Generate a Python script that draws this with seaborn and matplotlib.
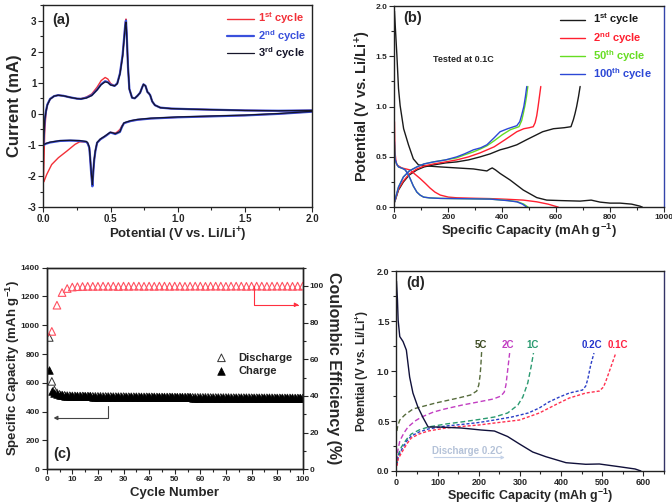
import matplotlib
matplotlib.use('Agg')
import matplotlib.pyplot as plt
import seaborn as sns
from matplotlib.ticker import MultipleLocator, FormatStrFormatter

# ---------------- (a) cyclic voltammetry ----------------
# one closed loop per cycle: anodic scan 0 -> 2 V, then cathodic scan 2 -> 0 V
cv_v = [0.0, 0.005, 0.01, 0.02, 0.03, 0.05, 0.08, 0.11, 0.15, 0.2, 0.25, 0.28, 0.32, 0.36, 0.40,
        0.43, 0.46, 0.48, 0.50, 0.53, 0.55, 0.57, 0.59, 0.60, 0.61, 0.615, 0.62, 0.63, 0.64, 0.66,
        0.68, 0.70, 0.72, 0.735, 0.745, 0.76, 0.775, 0.785, 0.795, 0.81, 0.83, 0.87, 0.95, 1.1,
        1.3, 1.5, 1.75, 2.0,
        2.0, 1.75, 1.5, 1.25, 1.0, 0.8, 0.7, 0.65, 0.62, 0.6, 0.585, 0.57, 0.55, 0.535, 0.515,
        0.498, 0.46, 0.424, 0.40, 0.387, 0.378, 0.372, 0.365, 0.36, 0.355, 0.348, 0.342, 0.33,
        0.32, 0.27, 0.2, 0.124, 0.05, 0.02, 0.0]
cv_i_2 = [-1.0, -0.6, -0.2, 0.1, 0.3, 0.48, 0.57, 0.6, 0.58, 0.53, 0.49, 0.48, 0.52, 0.6, 0.78,
          0.95, 1.05, 1.02, 0.94, 0.9, 0.98, 1.3, 1.9, 2.4, 2.9, 3.0, 2.6, 1.5, 0.8, 0.52,
          0.5, 0.58, 0.68, 0.85, 0.95, 0.9, 0.7, 0.66, 0.6, 0.4, 0.28, 0.2, 0.17, 0.15,
          0.13, 0.11, 0.1, 0.11,
          0.07, 0.0, -0.05, -0.08, -0.11, -0.15, -0.19, -0.23, -0.27, -0.3, -0.42, -0.58, -0.62,
          -0.65, -0.62, -0.6, -0.72, -0.82, -0.93, -1.2, -1.5, -1.85, -2.33, -2.1, -1.85, -1.4,
          -1.09, -0.95, -0.9, -0.87, -0.86, -0.87, -0.92, -0.96, -1.0]
cv_i_3 = [-1.0, -0.62, -0.22, 0.09, 0.29, 0.47, 0.57, 0.6, 0.58, 0.53, 0.49, 0.48, 0.51, 0.59, 0.77,
          0.94, 1.03, 1.01, 0.93, 0.9, 0.97, 1.28, 1.85, 2.35, 2.85, 2.95, 2.55, 1.5, 0.8, 0.52,
          0.5, 0.58, 0.68, 0.85, 0.95, 0.9, 0.7, 0.66, 0.6, 0.4, 0.28, 0.2, 0.17, 0.15,
          0.13, 0.11, 0.1, 0.11,
          0.08, 0.01, -0.04, -0.07, -0.1, -0.14, -0.18, -0.22, -0.26, -0.29, -0.41, -0.57, -0.61,
          -0.64, -0.61, -0.59, -0.71, -0.81, -0.92, -1.18, -1.48, -1.8, -2.28, -2.05, -1.8, -1.38,
          -1.07, -0.93, -0.89, -0.86, -0.85, -0.86, -0.91, -0.95, -0.99]
cv1_v = [0.0, 0.005, 0.01, 0.02, 0.03, 0.05, 0.08, 0.11, 0.15, 0.2, 0.25, 0.28, 0.32, 0.36, 0.40,
         0.43, 0.46, 0.48, 0.50, 0.53, 0.55, 0.57, 0.59, 0.60, 0.61, 0.615, 0.62, 0.63, 0.64, 0.66,
         0.68, 0.70, 0.72, 0.735, 0.745, 0.76, 0.775, 0.785, 0.795, 0.81, 0.83, 0.87, 0.95, 1.1,
         1.3, 1.5, 1.75, 2.0,
         2.0, 1.75, 1.5, 1.25, 1.0, 0.8, 0.7, 0.65, 0.62, 0.6, 0.585, 0.57, 0.55, 0.535, 0.515,
         0.498, 0.46, 0.424, 0.40, 0.387, 0.378, 0.372, 0.365, 0.36, 0.355, 0.348, 0.342, 0.33,
         0.32, 0.27, 0.236, 0.174, 0.112, 0.062, 0.025, 0.005, 0.0]
cv1_i = [-2.2, -1.5, -0.6, 0.05, 0.28, 0.48, 0.57, 0.6, 0.58, 0.53, 0.49, 0.49, 0.54, 0.64, 0.86,
         1.07, 1.17, 1.12, 0.98, 0.9, 0.98, 1.3, 1.9, 2.4, 2.95, 3.05, 2.6, 1.5, 0.8, 0.52,
         0.5, 0.58, 0.68, 0.85, 0.95, 0.9, 0.7, 0.66, 0.6, 0.4, 0.28, 0.2, 0.17, 0.15,
         0.13, 0.11, 0.1, 0.11,
         0.07, 0.0, -0.05, -0.08, -0.11, -0.15, -0.19, -0.23, -0.27, -0.3, -0.38, -0.5, -0.58,
         -0.62, -0.6, -0.6, -0.72, -0.82, -0.93, -1.2, -1.5, -1.85, -2.3, -2.1, -1.85, -1.4,
         -1.09, -0.95, -0.9, -0.9, -0.98, -1.2, -1.41, -1.63, -1.95, -2.17, -2.2]

# ---------------- (b) galvanostatic profiles at 0.1C ----------------
b1_dis_c = [0, 3, 9, 15, 21, 34, 52, 70, 89, 120, 170, 231, 293, 343, 355, 363, 375, 392, 429,
            478, 528, 565, 620, 689, 730, 763, 800, 837, 880, 911, 920]
b1_dis_v = [1.95, 1.8, 1.51, 1.18, 1.01, 0.78, 0.62, 0.48, 0.42, 0.41, 0.40, 0.39, 0.38, 0.36,
            0.38, 0.39, 0.37, 0.335, 0.27, 0.17, 0.095, 0.07, 0.065, 0.06, 0.07, 0.05, 0.04,
            0.04, 0.03, 0.01, 0.0]
b1_chg_c = [0, 3, 15, 33, 55, 83, 110, 145, 190, 231, 275, 318, 355, 392, 420, 454, 490, 520,
            550, 590, 630, 655, 664, 670, 676, 683, 689]
b1_chg_v = [0.05, 0.07, 0.17, 0.25, 0.32, 0.37, 0.40, 0.42, 0.44, 0.45, 0.47, 0.50, 0.53, 0.57,
            0.59, 0.62, 0.67, 0.71, 0.75, 0.78, 0.79, 0.80, 0.87, 0.93, 1.0, 1.1, 1.2]
b2_dis_c = [0, 1, 2, 5, 9, 27, 58, 75, 95, 115, 132, 150, 170, 200, 231, 300, 355, 420, 478,
            528, 570, 608]
b2_dis_v = [0.85, 0.65, 0.55, 0.47, 0.42, 0.39, 0.37, 0.33, 0.285, 0.235, 0.19, 0.15, 0.12, 0.1,
            0.093, 0.088, 0.085, 0.078, 0.07, 0.053, 0.03, 0.0]
b2_chg_c = [0, 3, 15, 33, 55, 83, 110, 145, 190, 231, 275, 318, 370, 410, 454, 480, 500, 515,
            522, 528, 533, 538, 543]
b2_chg_v = [0.05, 0.07, 0.18, 0.26, 0.33, 0.38, 0.41, 0.43, 0.45, 0.47, 0.50, 0.54, 0.60, 0.67,
            0.75, 0.78, 0.79, 0.80, 0.84, 0.91, 1.0, 1.1, 1.2]
b50_dis_c = [0, 1, 2, 8, 15, 30, 40, 50, 58, 70, 83, 95, 108, 130, 170, 250, 355, 420, 458, 480, 496]
b50_dis_v = [0.62, 0.53, 0.47, 0.43, 0.40, 0.385, 0.37, 0.33, 0.285, 0.21, 0.15, 0.12, 0.10,
             0.092, 0.087, 0.084, 0.08, 0.066, 0.053, 0.03, 0.0]
b50_chg_c = [0, 3, 15, 33, 55, 83, 110, 145, 190, 231, 260, 293, 320, 343, 370, 400, 430, 462,
             472, 478, 485, 490, 495]
b50_chg_v = [0.05, 0.08, 0.2, 0.30, 0.36, 0.40, 0.43, 0.45, 0.47, 0.49, 0.52, 0.55, 0.58, 0.61,
             0.66, 0.72, 0.77, 0.80, 0.86, 0.93, 1.02, 1.1, 1.2]
b100_dis_c = [0, 1, 2, 8, 15, 30, 40, 50, 58, 70, 83, 95, 108, 130, 170, 250, 355, 420, 454, 475, 491]
b100_dis_v = [0.65, 0.55, 0.48, 0.43, 0.40, 0.385, 0.37, 0.33, 0.285, 0.21, 0.15, 0.12, 0.10,
              0.092, 0.087, 0.084, 0.08, 0.065, 0.053, 0.03, 0.0]
b100_chg_c = [0, 3, 15, 33, 55, 83, 110, 145, 190, 231, 260, 293, 320, 343, 370, 392, 420, 454,
              465, 472, 480, 486, 491]
b100_chg_v = [0.05, 0.08, 0.2, 0.30, 0.36, 0.40, 0.43, 0.45, 0.47, 0.50, 0.53, 0.57, 0.59, 0.62,
              0.69, 0.75, 0.78, 0.81, 0.85, 0.915, 1.0, 1.1, 1.2]

# ---------------- (c) cycling ----------------
cycles = list(range(1, 101))
charge_cap = [690, 545, 528, 519, 514, 512, 510, 509, 509, 508,
              508, 507, 507, 507, 506, 506, 506, 505, 505, 505,
              505, 504, 504, 504, 504, 503, 503, 503, 503, 503,
              502, 502, 502, 502, 502, 502, 501, 501, 501, 501,
              501, 501, 500, 500, 500, 500, 500, 500, 500, 499,
              499, 499, 499, 499, 499, 499, 498, 498, 498, 498,
              498, 498, 498, 497, 497, 497, 497, 497, 497, 497,
              497, 496, 496, 496, 496, 496, 496, 496, 496, 495,
              495, 495, 495, 495, 495, 495, 495, 495, 494, 494,
              494, 494, 494, 494, 494, 494, 493, 493, 493, 493]
discharge_cap = [915, 610, 550, 530, 520, 515, 513, 511, 510, 509,
                 509, 508, 508, 508, 507, 507, 507, 506, 506, 506,
                 506, 505, 505, 505, 505, 504, 504, 504, 504, 504,
                 503, 503, 503, 503, 503, 503, 502, 502, 502, 502,
                 502, 502, 501, 501, 501, 501, 501, 501, 501, 500,
                 500, 500, 500, 500, 500, 500, 499, 499, 499, 499,
                 499, 499, 499, 498, 498, 498, 498, 498, 498, 498,
                 498, 497, 497, 497, 497, 497, 497, 497, 497, 496,
                 496, 496, 496, 496, 496, 496, 496, 496, 495, 495,
                 495, 495, 495, 495, 495, 495, 494, 494, 494, 494]
ce_cycles = list(range(2, 101, 2))
ce = [75.2, 89.5, 96.4, 98.6, 99.4, 99.6, 99.7, 99.8, 99.8, 99.8,
      99.9, 99.8, 99.9, 99.7, 99.9, 99.8, 99.9, 99.9, 99.8, 99.9,
      99.8, 99.9, 99.9, 99.8, 99.9, 99.9, 99.8, 99.9, 99.9, 99.9,
      99.8, 99.9, 99.9, 99.9, 99.8, 99.9, 99.9, 99.9, 99.8, 99.9,
      99.9, 99.9, 99.8, 99.9, 99.9, 99.9, 99.9, 99.8, 99.9, 99.9]

# ---------------- (d) rate capability ----------------
d_dis_c = [0, 2.4, 4, 8, 16, 24, 32, 40, 52, 65, 77, 101, 157, 182, 206, 238, 270, 299, 331,
           363, 412, 460, 493, 541, 580, 594]
d_dis_v = [1.9, 1.71, 1.51, 1.345, 1.295, 1.21, 0.94, 0.78, 0.64, 0.53, 0.44, 0.44, 0.43, 0.42,
           0.41, 0.40, 0.345, 0.27, 0.19, 0.143, 0.083, 0.067, 0.07, 0.043, 0.02, 0.0]
rate_labels = ['5C', '2C', '1C', '0.2C', '0.1C']
rate_c = [[1, 3, 8, 20, 40, 95, 150, 180, 195, 200, 203, 205, 207],
          [1, 3, 8, 18, 28, 45, 61, 90, 117, 160, 198, 235, 254, 262, 266, 270, 275],
          [1, 4, 12, 25, 36, 55, 77, 120, 157, 200, 238, 270, 295, 307, 319, 327, 333],
          [1, 4, 12, 25, 36, 55, 77, 120, 157, 200, 238, 280, 320, 347, 370, 396, 420, 452,
           460, 465, 472, 480],
          [1, 4, 12, 25, 36, 55, 77, 120, 157, 200, 238, 299, 347, 390, 420, 460, 493, 503,
           509, 515, 521, 527, 533]]
rate_v = [[0.40, 0.45, 0.51, 0.56, 0.62, 0.68, 0.73, 0.76, 0.80, 0.86, 0.95, 1.05, 1.2],
          [0.10, 0.2, 0.3, 0.38, 0.44, 0.50, 0.54, 0.59, 0.62, 0.66, 0.69, 0.72, 0.75, 0.79,
           0.86, 1.0, 1.18],
          [0.08, 0.16, 0.24, 0.32, 0.37, 0.41, 0.44, 0.47, 0.49, 0.515, 0.54, 0.58, 0.66, 0.74,
           0.88, 1.04, 1.18],
          [0.06, 0.14, 0.21, 0.3, 0.35, 0.39, 0.42, 0.45, 0.465, 0.485, 0.51, 0.54, 0.58, 0.63,
           0.69, 0.74, 0.78, 0.81, 0.85, 0.92, 1.06, 1.18],
          [0.05, 0.12, 0.18, 0.27, 0.33, 0.37, 0.40, 0.43, 0.445, 0.46, 0.48, 0.51, 0.58, 0.67,
           0.73, 0.78, 0.80, 0.84, 0.9, 0.97, 1.04, 1.11, 1.18]]
rate_colors = ['#566b3c', '#c23ec2', '#2a9a70', '#2b3ec6', '#ff3050']
rate_text_colors = ['#3c4a22', '#c23ec2', '#2a9a70', '#2233cc', '#ff2040']
rate_label_x = [204, 271, 331, 476, 537]

sns.set_style('ticks')
plt.rcParams['font.family'] = ['Liberation Sans', 'DejaVu Sans']
plt.rcParams['font.weight'] = 'bold'
plt.rcParams['axes.labelweight'] = 'bold'
plt.rcParams['axes.unicode_minus'] = False
plt.rcParams['mathtext.fontset'] = 'custom'
plt.rcParams['mathtext.bf'] = 'Liberation Sans:bold'
plt.rcParams['mathtext.rm'] = 'Liberation Sans:bold'
plt.rcParams['mathtext.it'] = 'Liberation Sans:bold'
plt.rcParams['mathtext.default'] = 'bf'
plt.rcParams['axes.linewidth'] = 1.0
plt.rcParams['axes.edgecolor'] = '#222222'

fig = plt.figure(figsize=(6.72, 5.04), dpi=100)
ax_a = fig.add_axes([0.0645, 0.589, 0.400, 0.401])
ax_b = fig.add_axes([0.587, 0.589, 0.401, 0.399])
ax_c = fig.add_axes([0.0695, 0.069, 0.381, 0.400])
ax_d = fig.add_axes([0.590, 0.0655, 0.398, 0.3966])


def style_ticks(ax, size):
    ax.tick_params(which='major', direction='out', length=3.5, width=0.8, labelsize=size,
                   top=False, right=False, pad=1.5)
    ax.tick_params(which='minor', direction='out', length=2, width=0.8, top=False, right=False)


# (a)
sns.lineplot(x=cv1_v, y=cv1_i, sort=False, estimator=None, color='#f23038', lw=1.0,
             label='1$^{st}$ cycle', ax=ax_a)
sns.lineplot(x=cv_v, y=cv_i_2, sort=False, estimator=None, color='#3a50dc', lw=1.6,
             label='2$^{nd}$ cycle', ax=ax_a)
sns.lineplot(x=cv_v, y=cv_i_3, sort=False, estimator=None, color='#15152a', lw=0.9,
             label='3$^{rd}$ cycle', ax=ax_a)
ax_a.set_xlim(0, 2.0)
ax_a.set_ylim(-3, 3.5)
ax_a.xaxis.set_major_locator(MultipleLocator(0.5))
ax_a.xaxis.set_minor_locator(MultipleLocator(0.25))
ax_a.yaxis.set_major_locator(MultipleLocator(1))
ax_a.yaxis.set_minor_locator(MultipleLocator(0.5))
ax_a.xaxis.set_major_formatter(FormatStrFormatter('%.1f'))
style_ticks(ax_a, 7)
ax_a.set_xlabel('Potential (V vs. Li/Li$^{+}$)', fontsize=9.5)
ax_a.set_ylabel('Current (mA)', fontsize=12)
ax_a.xaxis.set_label_coords(0.5, -0.09)
ax_a.yaxis.set_label_coords(-0.081, 0.5)
ax_a.legend(loc='upper right', bbox_to_anchor=(1.0, 1.0), frameon=False, fontsize=8,
            handlelength=2.4, labelspacing=0.12, handletextpad=0.4, labelcolor='linecolor',
            borderaxespad=0.2, borderpad=0.3)
ax_a.text(0.032, 0.925, '(a)', transform=ax_a.transAxes, fontsize=10.5, va='center')

# (b)
b_sets = [(b1_dis_c, b1_dis_v, b1_chg_c, b1_chg_v, '#1a1a1a', '1$^{st}$ cycle'),
          (b2_dis_c, b2_dis_v, b2_chg_c, b2_chg_v, '#ff2030', '2$^{nd}$ cycle'),
          (b50_dis_c, b50_dis_v, b50_chg_c, b50_chg_v, '#66dd22', '50$^{th}$ cycle'),
          (b100_dis_c, b100_dis_v, b100_chg_c, b100_chg_v, '#2c48d6', '100$^{th}$ cycle')]
for dc, dv, cc, cv, col, lab in b_sets:
    sns.lineplot(x=dc, y=dv, sort=False, estimator=None, color=col, lw=1.0, label=lab, ax=ax_b)
    sns.lineplot(x=cc, y=cv, sort=False, estimator=None, color=col, lw=1.0, ax=ax_b)
ax_b.set_xlim(0, 1000)
ax_b.set_ylim(0, 2.0)
ax_b.xaxis.set_major_locator(MultipleLocator(200))
ax_b.xaxis.set_minor_locator(MultipleLocator(100))
ax_b.yaxis.set_major_locator(MultipleLocator(0.5))
ax_b.yaxis.set_minor_locator(MultipleLocator(0.25))
ax_b.yaxis.set_major_formatter(FormatStrFormatter('%.1f'))
style_ticks(ax_b, 6)
ax_b.spines['right'].set_color('#3344aa')
ax_b.set_xlabel('Specific Capacity (mAh g$^{-1}$)', fontsize=9.5)
ax_b.set_ylabel('Potential (V vs. Li/Li$^{+}$)', fontsize=10.5)
ax_b.xaxis.set_label_coords(0.5, -0.075)
ax_b.yaxis.set_label_coords(-0.081, 0.5)
ax_b.legend(loc='upper right', bbox_to_anchor=(0.975, 1.0), frameon=False, fontsize=8,
            handlelength=2.3, labelspacing=0.22, handletextpad=0.7, labelcolor='linecolor',
            borderaxespad=0.2, borderpad=0.3)
ax_b.text(142, 1.47, 'Tested at 0.1C', fontsize=6.5, va='center')
ax_b.text(0.032, 0.94, '(b)', transform=ax_b.transAxes, fontsize=10.5, va='center')

# (c)
ax_c2 = ax_c.twinx()
sns.scatterplot(x=cycles, y=discharge_cap, marker='^', s=30, facecolor='none',
                edgecolor='#333333', linewidth=0.7, label='Discharge', ax=ax_c)
sns.scatterplot(x=cycles, y=charge_cap, marker='^', s=30, color='black',
                edgecolor='black', linewidth=0.5, label='Charge', ax=ax_c)
sns.scatterplot(x=ce_cycles, y=ce, marker='^', s=30, facecolor='none',
                edgecolor='#ff5060', linewidth=0.8, ax=ax_c2)
ax_c.set_xlim(0, 100)
ax_c.set_ylim(0, 1400)
ax_c2.set_ylim(0, 110)
ax_c.xaxis.set_major_locator(MultipleLocator(10))
ax_c.xaxis.set_minor_locator(MultipleLocator(5))
ax_c.yaxis.set_major_locator(MultipleLocator(200))
ax_c2.yaxis.set_major_locator(MultipleLocator(20))
ax_c2.yaxis.set_minor_locator(MultipleLocator(10))
style_ticks(ax_c, 6)
ax_c2.tick_params(which='major', direction='out', length=3.5, width=0.8, labelsize=6, pad=1.5)
ax_c2.tick_params(which='minor', direction='out', length=2, width=0.8)
ax_c.set_xlabel('Cycle Number', fontsize=9.5)
ax_c.set_ylabel('Specific Capacity (mAh g$^{-1}$)', fontsize=9.5)
ax_c2.set_ylabel('Coulombic Efficiency (%)', fontsize=11.5, rotation=270, va='bottom')
ax_c.xaxis.set_label_coords(0.5, -0.09)
ax_c.yaxis.set_label_coords(-0.098, 0.5)
ax_c2.yaxis.set_label_coords(1.09, 0.5)
ax_c.legend(loc='center left', bbox_to_anchor=(0.6, 0.52), frameon=False, fontsize=8,
            handletextpad=0.5, labelspacing=0.3, markerscale=1.0)
if ax_c2.get_legend() is not None:
    ax_c2.get_legend().remove()
ax_c2.annotate('', xy=(98.5, 89.7), xytext=(81, 100),
               arrowprops=dict(arrowstyle='-|>', color='#ff3040', lw=0.8, shrinkA=0, shrinkB=0,
                               mutation_scale=6,
                               connectionstyle='angle,angleA=90,angleB=0,rad=0'))
ax_c.annotate('', xy=(2.6, 356), xytext=(23.8, 441),
              arrowprops=dict(arrowstyle='-|>', color='#444444', lw=0.8, shrinkA=0, shrinkB=0,
                              mutation_scale=6,
                              connectionstyle='angle,angleA=90,angleB=0,rad=0'))
ax_c.text(0.025, 0.077, '(c)', transform=ax_c.transAxes, fontsize=10.5, va='center')

# (d)
for c_vals, v_vals, col, lab in zip(rate_c, rate_v, rate_colors, rate_labels):
    dash = (0, (2.2, 1.4)) if lab in ('0.2C', '0.1C') else (0, (3.5, 2))
    sns.lineplot(x=c_vals, y=v_vals, sort=False, estimator=None, color=col, lw=1.0,
                 linestyle=dash, ax=ax_d)
sns.lineplot(x=d_dis_c, y=d_dis_v, sort=False, estimator=None, color='#10103a', lw=1.0, ax=ax_d)
for lab, xpos, tcol in zip(rate_labels, rate_label_x, rate_text_colors):
    ax_d.text(xpos, 1.26, lab, color=tcol, fontsize=7, ha='center', va='center')
ax_d.text(87, 0.2, 'Discharge 0.2C', color='#b4c2d8', fontsize=7, va='center')
ax_d.annotate('', xy=(270, 0.135), xytext=(85, 0.135),
              arrowprops=dict(arrowstyle='->', color='#c4d2e8', lw=0.8, mutation_scale=5))
ax_d.set_xlim(0, 650)
ax_d.set_ylim(0, 2.0)
ax_d.xaxis.set_major_locator(MultipleLocator(100))
ax_d.xaxis.set_minor_locator(MultipleLocator(50))
ax_d.yaxis.set_major_locator(MultipleLocator(0.5))
ax_d.yaxis.set_minor_locator(MultipleLocator(0.25))
ax_d.yaxis.set_major_formatter(FormatStrFormatter('%.1f'))
style_ticks(ax_d, 6.5)
ax_d.spines['right'].set_color('#333366')
ax_d.set_xlabel('Specific Capacity (mAh g$^{-1}$)', fontsize=9)
ax_d.set_ylabel('Potential (V vs. Li/Li$^{+}$)', fontsize=8.5)
ax_d.xaxis.set_label_coords(0.5, -0.078)
ax_d.yaxis.set_label_coords(-0.097, 0.5)
ax_d.text(0.035, 0.938, '(d)', transform=ax_d.transAxes, fontsize=10.5, va='center')
if ax_d.get_legend() is not None:
    ax_d.get_legend().remove()

fig.savefig('out.png', dpi=100)
